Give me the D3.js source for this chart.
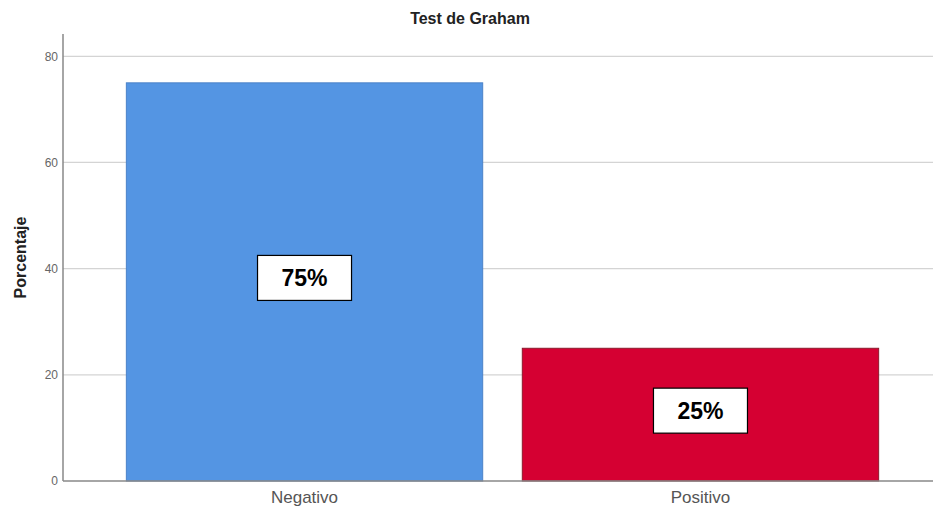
<!DOCTYPE html>
<html>
<head>
<meta charset="utf-8">
<script src="https://cdn.jsdelivr.net/npm/d3@7"></script>
<style>
  body { margin: 0; background: #fff; }
  svg { display: block; font-family: "Liberation Sans", Arial, sans-serif; }
</style>
</head>
<body>
<svg id="chart" width="933" height="509"></svg>
<script>
const categories = ["Negativo", "Positivo"];
const values = [75, 25];
const labels = ["75%", "25%"];
const yTicks = [0, 20, 40, 60, 80];
const colors = ["#5495e3", "#d50032"];
const strokes = ["#4a82c8", "#8c1a2c"];

const dms = { width: 933, height: 509, marginTop: 34, marginLeft: 63, bottom: 481 };

const svg = d3.select("#chart");

// scales
const yScale = d3.scaleLinear().domain([0, 84.2]).range([dms.bottom, dms.marginTop]);
const xScale = d3.scaleBand()
  .domain(categories)
  .range([dms.marginLeft, 942])
  .paddingInner(0.1)
  .paddingOuter(0.16);

// gridlines
svg.selectAll(".grid")
  .data(yTicks.filter(d => d > 0))
  .enter()
  .append("line")
  .attr("x1", dms.marginLeft)
  .attr("x2", dms.width)
  .attr("y1", d => yScale(d))
  .attr("y2", d => yScale(d))
  .attr("stroke", "#d4d4d4")
  .attr("stroke-width", 1.3);

// bars
svg.selectAll(".bar")
  .data(values)
  .enter()
  .append("rect")
  .attr("x", (d, i) => xScale(categories[i]))
  .attr("y", d => yScale(d))
  .attr("width", xScale.bandwidth())
  .attr("height", d => dms.bottom - yScale(d))
  .attr("fill", (d, i) => colors[i])
  .attr("stroke", (d, i) => strokes[i])
  .attr("stroke-width", 1);

// value labels
const boxW = 94, boxH = 45;
const lbl = svg.selectAll(".lbl")
  .data(values)
  .enter()
  .append("g")
  .attr("transform", (d, i) =>
    `translate(${xScale(categories[i]) + xScale.bandwidth() / 2},${yScale(d / 2) - 4})`);
lbl.append("rect")
  .attr("x", -boxW / 2)
  .attr("y", -boxH / 2)
  .attr("width", boxW)
  .attr("height", boxH)
  .attr("fill", "#fff")
  .attr("stroke", "#000")
  .attr("stroke-width", 1.2);
lbl.append("text")
  .attr("text-anchor", "middle")
  .attr("dy", "0.36em")
  .attr("font-size", 23)
  .attr("font-weight", "bold")
  .attr("fill", "#000")
  .text((d, i) => labels[i]);

// y axis
const yAxis = svg.append("g")
  .attr("transform", `translate(${dms.marginLeft},0)`)
  .call(d3.axisLeft(yScale).tickValues(yTicks).tickSize(0).tickPadding(5));
yAxis.select(".domain").remove();
yAxis.selectAll("text")
  .attr("font-size", 12)
  .attr("fill", "#666")
  .attr("font-family", "Liberation Sans, Arial, sans-serif");
svg.append("line")
  .attr("x1", dms.marginLeft).attr("x2", dms.marginLeft)
  .attr("y1", dms.marginTop).attr("y2", dms.bottom)
  .attr("stroke", "#888").attr("stroke-width", 1.5);

// x axis
const xAxis = svg.append("g")
  .attr("transform", `translate(0,${dms.bottom})`)
  .call(d3.axisBottom(xScale).tickSize(0).tickPadding(10));
xAxis.select(".domain").remove();
xAxis.selectAll("text")
  .attr("font-size", 17)
  .attr("fill", "#555")
  .attr("font-family", "Liberation Sans, Arial, sans-serif");
svg.append("line")
  .attr("x1", dms.marginLeft).attr("x2", dms.width)
  .attr("y1", dms.bottom).attr("y2", dms.bottom)
  .attr("stroke", "#888").attr("stroke-width", 1.5);

// titles
svg.append("text")
  .attr("x", 470)
  .attr("y", 24)
  .attr("text-anchor", "middle")
  .attr("font-size", 16)
  .attr("font-weight", "bold")
  .attr("fill", "#222")
  .text("Test de Graham");

svg.append("text")
  .attr("transform", `translate(26,${(dms.marginTop + dms.bottom) / 2}) rotate(-90)`)
  .attr("text-anchor", "middle")
  .attr("font-size", 16)
  .attr("font-weight", "bold")
  .attr("fill", "#222")
  .text("Porcentaje");
</script>
</body>
</html>
